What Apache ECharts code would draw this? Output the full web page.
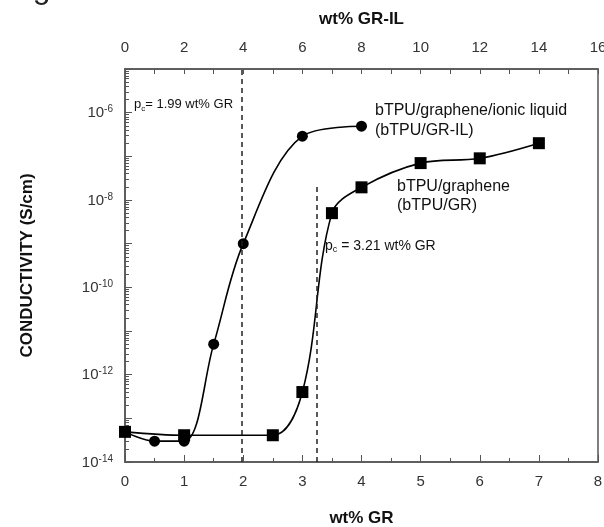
<!DOCTYPE html>
<html>
<head>
<meta charset="utf-8">
<script src="https://cdn.jsdelivr.net/npm/echarts@6/dist/echarts.min.js"></script>
<style>
  html, body { margin: 0; padding: 0; background: #fff; }
  #chart { width: 604px; height: 527px; }
</style>
</head>
<body>
<div id="chart"></div>
<script>
// bTPU/graphene (squares), x in wt% GR
const grX = [0, 1, 2.5, 3, 3.5, 4, 5, 6, 7]
const grY = [4.9e-14, 4.1e-14, 4.1e-14, 4e-13, 5e-9, 1.95e-8, 7e-8, 9e-8, 2e-7]

// bTPU/graphene/ionic liquid (circles), x in wt% GR
const ilX = [0, 0.5, 1, 1.5, 2, 3, 4]
const ilY = [4.9e-14, 3e-14, 3e-14, 5e-12, 1e-9, 2.9e-7, 4.9e-7]

// percolation thresholds (dashed lines)
const pcX = [1.97, 3.25]
const pcTop = [1e-5, 2e-8]

const FONT = 'Arial, "Liberation Sans", sans-serif'
const AXIS_COLOR = '#555'

// log minor tick positions, in decades
const minorTicks = []
for (let n = -14; n < -5; n++) {
  for (let k = 2; k <= 9; k++) minorTicks.push(n + Math.log10(k))
}

const zip = (xs, ys) => xs.map((x, i) => [x, ys[i]])

const chart = echarts.init(document.getElementById('chart'))

const nameStyle = { fontFamily: FONT, fontWeight: 'bold', fontSize: 17, color: '#111' }

chart.setOption({
  animation: false,
  grid: {
    left: 125, right: 6, top: 69, bottom: 65,
    outerBoundsMode: 'none',
    show: true, borderColor: AXIS_COLOR, borderWidth: 1.5
  },
  xAxis: [
    {
      type: 'value', min: 0, max: 8, interval: 1, position: 'bottom',
      name: 'wt% GR', nameLocation: 'middle', nameGap: 48, nameTextStyle: nameStyle,
      axisLine: { lineStyle: { color: AXIS_COLOR, width: 1.5 } },
      axisTick: { inside: true, length: 7, lineStyle: { color: AXIS_COLOR } },
      minorTick: { show: true, splitNumber: 2, length: 4, lineStyle: { color: AXIS_COLOR } },
      axisLabel: { margin: 12, fontSize: 15, color: '#333', fontFamily: FONT },
      splitLine: { show: false }
    },
    {
      type: 'value', min: 0, max: 16, interval: 2, position: 'top',
      name: 'wt% GR-IL', nameLocation: 'middle', nameGap: 41, nameTextStyle: nameStyle,
      axisLine: { lineStyle: { color: AXIS_COLOR, width: 1.5 } },
      axisTick: { inside: true, length: 5, lineStyle: { color: AXIS_COLOR } },
      minorTick: { show: true, splitNumber: 2, length: 5, lineStyle: { color: AXIS_COLOR } },
      axisLabel: { margin: 14, fontSize: 15, color: '#333', fontFamily: FONT },
      splitLine: { show: false }
    }
  ],
  yAxis: [
    {
      type: 'log', logBase: 10, min: 1e-14, max: 1e-5,
      name: 'CONDUCTIVITY (S/cm)', nameLocation: 'middle', nameGap: 89, nameTextStyle: nameStyle,
      axisLine: { lineStyle: { color: AXIS_COLOR, width: 1.5 } },
      axisTick: { show: false },
      axisLabel: { show: false },
      splitLine: { show: false }
    },
    {
      type: 'value', min: -14, max: -5, interval: 1, position: 'left',
      axisLine: { show: false },
      axisTick: { inside: true, length: 7, lineStyle: { color: AXIS_COLOR } },
      axisLabel: {
        margin: 12,
        formatter: v => (v % 2 === 0 ? '{b|10}{s|' + v + '}' : ''),
        rich: {
          b: { fontSize: 15, color: '#333', fontFamily: FONT, lineHeight: 16, verticalAlign: 'bottom' },
          s: { fontSize: 10, color: '#333', fontFamily: FONT, lineHeight: 16, verticalAlign: 'top' }
        }
      },
      splitLine: { show: false }
    },
    {
      type: 'value', min: -14, max: -5, position: 'left',
      axisLine: { show: false },
      axisTick: { inside: true, length: 4, customValues: minorTicks, lineStyle: { color: AXIS_COLOR } },
      axisLabel: { show: false },
      splitLine: { show: false }
    }
  ],
  series: [
    {
      name: 'bTPU/GR-IL', type: 'line', xAxisIndex: 0, yAxisIndex: 0,
      data: zip(ilX, ilY),
      smooth: 0.35,
      symbol: 'circle', symbolSize: 11,
      itemStyle: { color: '#000' },
      lineStyle: { color: '#000', width: 1.6 }
    },
    {
      name: 'bTPU/GR', type: 'line', xAxisIndex: 0, yAxisIndex: 0,
      data: zip(grX, grY),
      smooth: 0.35,
      symbol: 'rect', symbolSize: 12,
      itemStyle: { color: '#000' },
      lineStyle: { color: '#000', width: 1.6 },
      markLine: {
        silent: true,
        symbol: ['none', 'none'],
        label: { show: false },
        lineStyle: { type: [5, 4], color: '#222', width: 1.5 },
        data: pcX.map((x, i) => [{ coord: [x, 1e-14] }, { coord: [x, pcTop[i]] }])
      }
    }
  ],
  graphic: [
    { type: 'text', left: 6, top: -27, style: { text: 'Figure', font: '32px ' + FONT, fill: '#222' } },
    {
      type: 'text', left: 134, top: 98,
      style: {
        text: '{t|p}{c|c}{t|= 1.99 wt% GR}',
        rich: {
          t: { fontSize: 13, fontFamily: FONT, fill: '#111' },
          c: { fontSize: 8, fontFamily: FONT, fill: '#111', padding: [8, 0, 0, 0] }
        }
      }
    },
    {
      type: 'text', left: 325, top: 239,
      style: {
        text: '{t|p}{c|c}{t| = 3.21 wt% GR}',
        rich: {
          t: { fontSize: 14, fontFamily: FONT, fill: '#111' },
          c: { fontSize: 9, fontFamily: FONT, fill: '#111', padding: [8, 0, 0, 0] }
        }
      }
    },
    { type: 'text', left: 375, top: 103, style: { text: 'bTPU/graphene/ionic liquid', font: '16px ' + FONT, fill: '#111' } },
    { type: 'text', left: 375, top: 123, style: { text: '(bTPU/GR-IL)', font: '16px ' + FONT, fill: '#111' } },
    { type: 'text', left: 397, top: 179, style: { text: 'bTPU/graphene', font: '16px ' + FONT, fill: '#111' } },
    { type: 'text', left: 397, top: 198, style: { text: '(bTPU/GR)', font: '16px ' + FONT, fill: '#111' } }
  ]
})
</script>
</body>
</html>
